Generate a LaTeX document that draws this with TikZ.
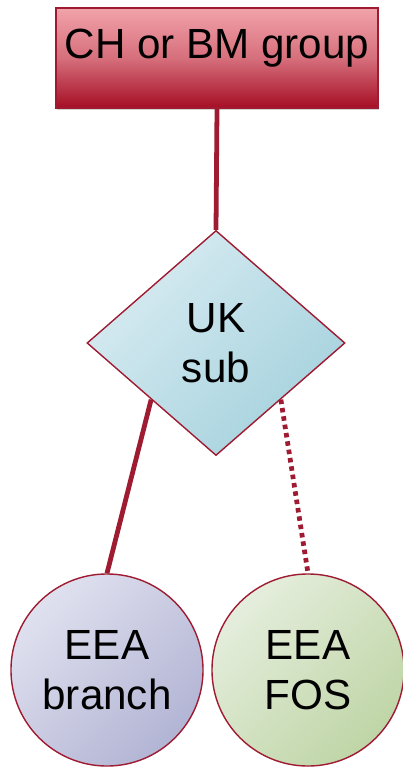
\documentclass[tikz,border=0pt]{standalone}
\usepackage{fontspec}
\setmainfont{Liberation Sans}
\usetikzlibrary{shapes.geometric,shadows}

\definecolor{edgered}{HTML}{9E1B32}
\definecolor{grptop}{HTML}{F2A3AA}
\definecolor{grpmid}{HTML}{D66F7C}
\definecolor{grpbot}{HTML}{A50E24}
\definecolor{subtop}{HTML}{D8EBF1}
\definecolor{subbot}{HTML}{A5D2DE}
\definecolor{brtop}{HTML}{E0E1EF}
\definecolor{brbot}{HTML}{B2B4D4}
\definecolor{fostop}{HTML}{E5EEDD}
\definecolor{fosbot}{HTML}{BFD5A6}

\tikzset{
  bigtext/.style={font=\fontsize{30}{35.6}\selectfont, align=center},
  holdbox/.style={rectangle, draw=edgered, line width=1pt, bigtext,
    top color=grptop, bottom color=grpbot, middle color=grpmid,
    inner sep=0pt, minimum width=8.05cm, text height=1.27cm, text depth=1.23cm,
    drop shadow={shadow xshift=1pt, shadow yshift=-1.5pt, opacity=0.35}},
  subbox/.style={diamond, draw=edgered, line width=1pt, bigtext,
    top color=subtop, bottom color=subbot, shading angle=45,
    inner sep=0pt, minimum width=6.45cm, minimum height=5.625cm},
  entity/.style={circle, draw=edgered, line width=1pt, bigtext,
    inner sep=0pt, minimum size=4.8cm},
  link/.style={draw=edgered, line width=3.4pt},
  looselink/.style={link, dash pattern=on 3.2pt off 2.8pt}
}

\begin{document}
\begin{tikzpicture}[x=0.025cm, y=-0.025cm]
  \useasboundingbox (0,0) rectangle (402,768);
  % parent and UK subsidiary
  \node[holdbox] (group) at (217,58) {CH or BM group};
  \node[subbox] (uksub) at (216,343) {UK\\sub};
  % EEA entities
  \node[entity, top color=brtop, bottom color=brbot, shading angle=45]
    (branch) at (107,670) {EEA\\branch};
  \node[entity, top color=fostop, bottom color=fosbot, shading angle=45]
    (fos) at (308,670) {EEA\\FOS};
  % links
  \draw[link] (group.south) -- (uksub.north);
  \draw[link] (uksub.south west) -- (branch.north);
  \draw[looselink] (uksub.south east) -- (fos.north);
\end{tikzpicture}
\end{document}
